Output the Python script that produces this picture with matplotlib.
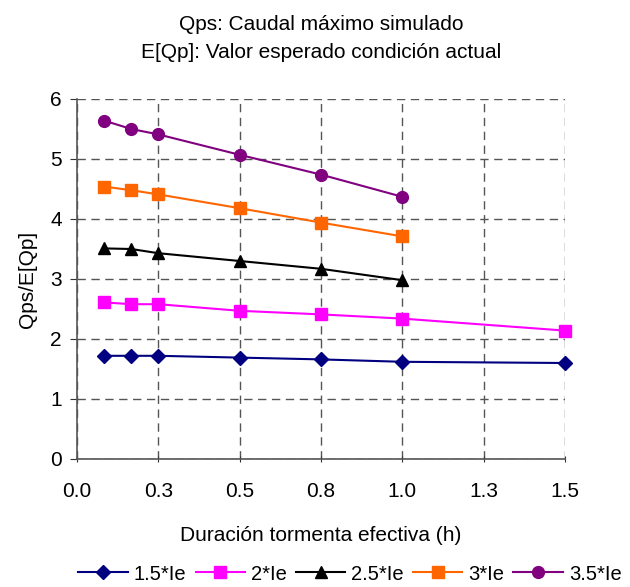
import matplotlib
matplotlib.use("Agg")
import matplotlib.pyplot as plt

plt.rcParams['font.family'] = ['Liberation Sans', 'DejaVu Sans']

durations = [1/12, 1/6, 1/4, 1/2, 3/4, 1.0, 1.5]
labels = ['1.5*Ie', '2*Ie', '2.5*Ie', '3*Ie', '3.5*Ie']
s15 = [1.72, 1.72, 1.72, 1.69, 1.66, 1.62, 1.60]
s20 = [2.61, 2.58, 2.58, 2.47, 2.41, 2.34, 2.14]
s25 = [3.51, 3.50, 3.43, 3.30, 3.17, 2.98]
s30 = [4.54, 4.48, 4.41, 4.18, 3.94, 3.71]
s35 = [5.64, 5.50, 5.41, 5.07, 4.74, 4.37]
xticks = [0, 0.25, 0.5, 0.75, 1.0, 1.25, 1.5]
xticklabels = ['0.0', '0.3', '0.5', '0.8', '1.0', '1.3', '1.5']
yticks = [0, 1, 2, 3, 4, 5, 6]

series = [s15, s20, s25, s30, s35]
colors = ['#000080', '#FF00FF', '#000000', '#FF6600', '#800080']
markers = ['D', 's', '^', 's', 'o']
msizes = [7, 8, 8, 8, 8.5]

fig = plt.figure(figsize=(6.3, 5.87), dpi=100)
ax = fig.add_axes([77/630, 1-459/587, (565-77)/630, (459-99)/587])

for vals, c, m, ms, lab in zip(series, colors, markers, msizes, labels):
    ax.plot(durations[:len(vals)], vals, color=c, marker=m, markersize=ms,
            linewidth=1.5, label=lab, clip_on=False, zorder=3)

ax.set_xlim(0, 1.5)
ax.set_ylim(0, 6)
ax.set_xticks(xticks)
ax.set_xticklabels(xticklabels)
ax.set_yticks(yticks)
ax.tick_params(axis='both', labelsize=15, color='#333333', length=5)
ax.tick_params(axis='x', direction='inout', pad=14)
ax.tick_params(axis='y', direction='out', pad=6)
ax.grid(True, color='#555555', linestyle=(0, (6, 4)), linewidth=1)
for s in ['top', 'right']:
    ax.spines[s].set_visible(False)
for s in ['left', 'bottom']:
    ax.spines[s].set_color('#555555')
    ax.spines[s].set_linewidth(1.2)

ax.set_xlabel('Duración tormenta efectiva (h)', fontsize=15, labelpad=18)
ax.set_ylabel('Qps/E[Qp]', fontsize=15, labelpad=9)

cx = (77 + 565) / 2 / 630
fig.text(cx, 1-25/587, 'Qps: Caudal máximo simulado', ha='center', va='center', fontsize=15)
fig.text(cx, 1-52/587, 'E[Qp]: Valor esperado condición actual', ha='center', va='center', fontsize=15)

fig.legend(loc='center', bbox_to_anchor=(350/630, 1-574/587), ncol=5, frameon=False,
           fontsize=14.5, handlelength=2.45, columnspacing=0.45, handletextpad=0.3,
           borderpad=0.1)

fig.savefig('out.png', dpi=100)
